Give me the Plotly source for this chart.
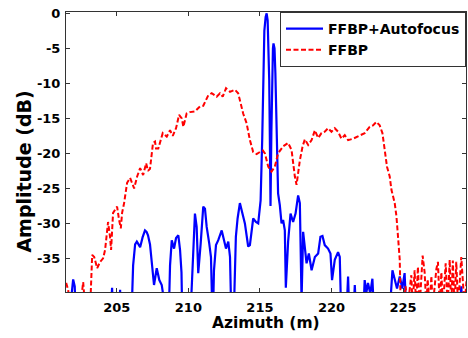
import plotly.graph_objects as go

# FFBP (red dashed) : azimuth (m), amplitude (dB)
ffbp_x = [201.46, 201.60, 201.74, 202.44, 202.65, 202.79, 203.14, 203.28, 203.42, 203.63,
          203.83, 204.04, 204.18, 204.32, 204.39, 204.53, 204.60, 204.74, 204.88, 205.02,
          205.16, 205.28, 205.37, 205.51, 205.72, 205.93, 206.21, 206.42, 206.63, 206.84,
          207.05, 207.18, 207.32, 207.53, 207.67, 207.74, 207.90, 208.21, 208.49, 208.72,
          208.91, 209.14, 209.35, 209.54, 209.65, 209.88, 210.11, 210.46, 210.81, 211.04,
          211.39, 211.63, 211.98, 212.21, 212.40, 212.63, 212.91, 213.25, 213.48, 213.83,
          214.07, 214.30, 214.53, 214.77, 215.00, 215.21, 215.35, 215.58, 215.81, 216.04,
          216.27, 216.62, 216.97, 217.21, 217.44, 217.56, 217.79, 217.98, 218.14, 218.37,
          218.61, 218.84, 219.07, 219.30, 219.53, 219.76, 220.00, 220.23, 220.46, 220.70,
          220.93, 221.16, 221.51, 221.86, 222.32, 222.67, 222.90, 223.14, 223.37, 223.56,
          223.72, 223.88, 224.07, 224.19, 224.42, 224.54, 224.65, 224.77, 224.84, 225.04,
          225.18, 225.32, 225.58, 225.67, 225.81, 225.92, 226.04, 226.16, 226.37, 226.51,
          226.63, 226.72, 226.86, 226.98, 227.07, 227.33, 227.44, 227.56, 227.68, 227.79,
          227.98, 228.12, 228.26, 228.37, 228.48, 228.60, 228.72, 228.85, 229.07, 229.20,
          229.30, 229.44]
ffbp_db = [-38.5, -39.5, -42, -42, -38.4, -42, -42, -34.5, -34.8, -36.4,
           -35.5, -35.0, -33.8, -31.0, -29.8, -32.0, -33.8, -28.5, -28.0, -27.6,
           -29.5, -30.7, -28.5, -27.1, -24.2, -23.5, -25.0, -23.3, -22.1, -23.1,
           -21.4, -22.5, -22.2, -18.5, -18.3, -19.3, -19.3, -17.1, -17.6, -16.7,
           -17.5, -16.4, -14.5, -15.0, -16.2, -14.3, -14.1, -14.0, -13.3, -13.2,
           -11.7, -11.4, -11.9, -11.4, -11.9, -10.7, -11.2, -10.9, -11.4, -14.3,
           -15.7, -18.1, -19.8, -20.1, -19.8, -19.6, -20.0, -21.9, -22.6, -21.9,
           -20.0, -19.0, -18.5, -19.5, -23.3, -24.5, -21.0, -19.0, -18.0, -18.8,
           -18.1, -16.7, -17.8, -17.1, -16.9, -16.4, -16.9, -16.4, -16.9, -17.9,
           -17.4, -18.1, -17.9, -17.6, -17.1, -16.2, -16.0, -15.5, -16.0, -17.1,
           -19.5, -21.9, -23.3, -25.2, -27.1, -29.0, -31.9, -35.2, -42, -42,
           -39.0, -42, -37.4, -42, -36.7, -42, -36.2, -42, -34.6, -37.0,
           -42, -38.0, -42, -37.5, -42, -36.5, -35.5, -42, -37.0, -42,
           -35.7, -42, -35.2, -42, -35.3, -42, -35.5, -42, -34.8, -38.0,
           -42, -38.0]

# FFBP+Autofocus (blue solid)
af_x = [201.46, 201.74, 201.85, 201.95, 202.06, 202.16, 204.53, 204.67, 204.78, 205.16,
        205.23, 205.30, 206.00, 206.14, 206.28, 206.40, 206.52, 206.63, 206.80, 206.97,
        207.08, 207.18, 207.32, 207.44, 207.60, 207.79, 207.97, 208.14, 208.30, 208.37,
        208.61, 208.72, 208.84, 209.00, 209.14, 209.30, 209.42, 209.52, 209.59, 210.11,
        210.30, 210.46, 210.58, 210.69, 210.86, 211.04, 211.16, 211.28, 211.46, 211.58,
        211.70, 211.79, 211.93, 212.09, 212.33, 212.49, 212.63, 212.79, 212.91, 213.02,
        213.15, 213.32, 213.44, 213.60, 213.79, 213.95, 214.18, 214.30, 214.53, 214.72,
        214.88, 215.05, 215.16, 215.23, 215.31, 215.40, 215.47, 215.54, 215.59, 215.65,
        215.70, 215.74, 215.80, 215.86, 215.91, 215.95, 216.02, 216.08, 216.15, 216.22,
        216.27, 216.39, 216.51, 216.62, 216.74, 216.81, 216.97, 217.14, 217.32, 217.49,
        217.67, 217.79, 217.91, 218.02, 218.14, 218.26, 218.42, 218.61, 218.84, 219.07,
        219.23, 219.37, 219.53, 219.76, 219.93, 220.04, 220.23, 220.46, 220.58, 220.70,
        221.00, 221.16, 221.28, 221.49, 221.63, 221.77, 222.18, 222.32, 222.43, 222.55,
        222.71, 222.86, 223.02, 224.00, 224.26, 224.42, 224.58, 224.77, 224.95, 225.11,
        225.28, 228.88, 229.07, 229.23, 229.44]
af_db = [-45, -45, -40.0, -38.0, -39.0, -45, -45, -39.2, -45, -45,
         -39.5, -45, -45, -36.0, -33.0, -32.6, -33.0, -33.4, -32.0, -31.0,
         -31.2, -31.7, -33.0, -35.2, -38.8, -36.4, -38.1, -38.8, -41.0, -45,
         -45, -36.0, -32.4, -33.6, -32.1, -31.7, -33.8, -37.0, -45, -45,
         -35.0, -28.6, -30.5, -37.1, -32.9, -27.6, -27.9, -30.5, -32.9, -34.8,
         -45, -36.7, -33.1, -32.4, -31.0, -32.4, -33.6, -32.6, -34.8, -45,
         -45, -31.9, -29.3, -27.1, -28.6, -30.0, -33.3, -33.1, -29.3, -29.8,
         -30.0, -26.7, -18.0, -8.0, -2.5, -0.5, 0.0, -1.0, -4.0, -9.5,
         -19.0, -27.5, -17.0, -8.0, -5.0, -4.3, -5.0, -8.5, -15.0, -22.0,
         -25.7, -27.4, -30.0, -29.5, -31.0, -39.2, -32.6, -28.6, -29.8, -28.6,
         -26.0, -27.1, -41.0, -31.2, -33.1, -35.7, -34.3, -36.7, -34.8, -34.3,
         -31.9, -31.8, -33.1, -33.6, -34.3, -38.1, -35.2, -34.1, -34.8, -45,
         -45, -37.6, -45, -45, -38.8, -45, -45, -38.1, -40.0, -38.5,
         -40.0, -37.9, -45, -45, -36.7, -38.0, -39.3, -37.6, -39.3, -37.1,
         -45, -45, -39.0, -45, -45]

x_ticks = [205, 210, 215, 220, 225]
y_ticks = [0, -5, -10, -15, -20, -25, -30, -35]
y_ticktext = ["0", "-5", "-10", "-15", "-20", "-25", "-30", "-35"]

FONT = "DejaVu Sans"

fig = go.Figure()
fig.add_trace(go.Scatter(x=af_x, y=af_db, mode="lines", name="FFBP+Autofocus",
                         line=dict(color="#0000FF", width=2.2)))
fig.add_trace(go.Scatter(x=ffbp_x, y=ffbp_db, mode="lines", name="FFBP",
                         line=dict(color="#FF0000", width=2, dash="5px,2.5px")))

axis_common = dict(showline=True, linecolor="#333333", linewidth=1, mirror="ticks",
                   ticks="inside", ticklen=4, tickcolor="#333333", showgrid=False,
                   zeroline=False, automargin=False,
                   tickfont=dict(family=FONT, size=13, color="black", weight="bold"))

fig.update_layout(
    width=468, height=338,
    margin=dict(l=66, r=2, t=12, b=46, autoexpand=False),
    paper_bgcolor="white", plot_bgcolor="white",
    xaxis=dict(range=[201.45, 229.4], tickvals=x_ticks, ticklabelstandoff=3, **axis_common),
    yaxis=dict(range=[-39.8, 0.2], tickvals=y_ticks, ticktext=y_ticktext, ticklabelstandoff=2,
               **axis_common),
    legend=dict(x=1, y=1, xanchor="right", yanchor="top", bgcolor="white",
                bordercolor="#333333", borderwidth=1, itemwidth=37,
                font=dict(family=FONT, size=14, color="black", weight="bold"),
                tracegroupgap=0),
    annotations=[
        dict(text="Amplitude (dB)", xref="paper", yref="paper",
             x=-0.105, y=0.43, xanchor="center", yanchor="middle",
             textangle=-90, showarrow=False,
             font=dict(family=FONT, size=19, color="black", weight="bold")),
        dict(text="Azimuth (m)", xref="paper", yref="paper",
             x=0.5, y=-0.072, xanchor="center", yanchor="top", showarrow=False,
             font=dict(family=FONT, size=15.5, color="black", weight="bold")),
    ],
    showlegend=True,
)

fig.write_html("out.html", config={"displayModeBar": False},
               post_script="document.body.style.margin='0';document.body.style.overflow='hidden';")
